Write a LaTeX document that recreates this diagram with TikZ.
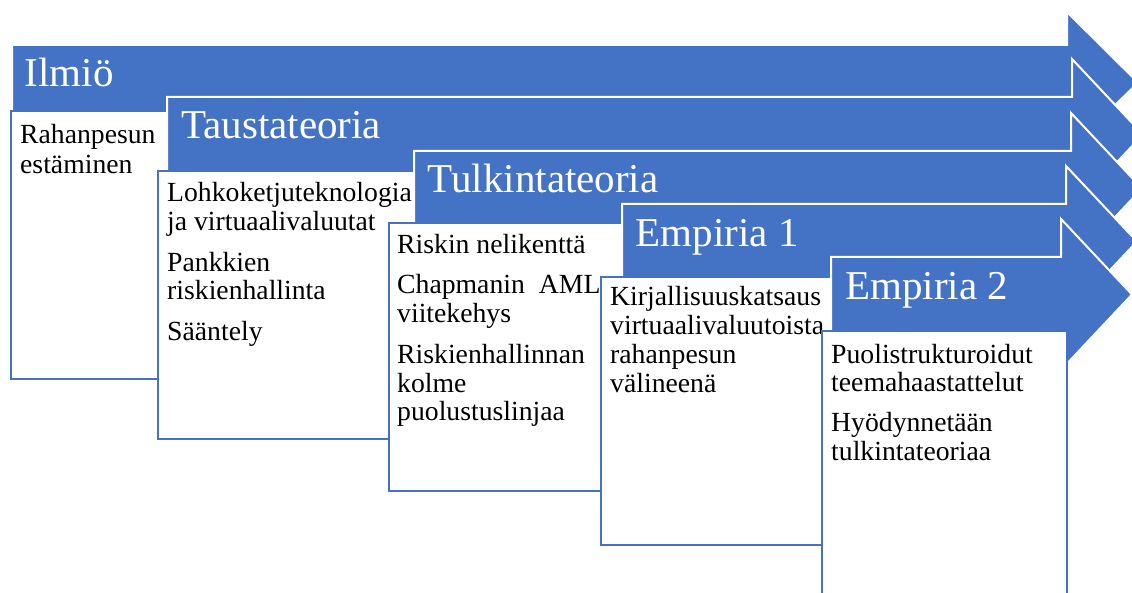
\documentclass[tikz,border=0pt]{standalone}
\usepackage{fontspec}
\setmainfont{Liberation Serif}
\definecolor{sablue}{HTML}{4472C4}
\tikzset{
  arrowshape/.style={fill=sablue, draw=white, line width=2pt},
  txtbox/.style={draw=sablue, line width=2.4pt, fill=white, anchor=north west, inner sep=0pt, minimum height=268pt},
  headtext/.style={text=white, anchor=base west, inner sep=0pt, font=\fontsize{41}{45}\selectfont},
  bodytext/.style={text=black, anchor=base west, inner sep=0pt, text width=320pt, align=flush left, font=\fontsize{27.7}{28.7}\selectfont}
}
\begin{document}
\begin{tikzpicture}[x=1pt,y=-1pt]
\useasboundingbox (0,0) rectangle (1132,593);
\clip (0,0) rectangle (1132,593);
% Arrow 1
\draw[arrowshape] (12,45) -- (1067,45) -- (1067,12) -- (1138,82.5) -- (1067,153) -- (1067,120) -- (12,120) -- cycle;
\node[headtext] (h1) at (24.5,87) {Ilmiö};
\node[txtbox, minimum width=260pt] (b1) at (10,110) {};
\node[bodytext] (t1) at ([xshift=10pt,yshift=-34pt]b1.north west) {Rahanpesun\\[1.3pt]estäminen};
% Arrow 2
\draw[arrowshape] (167,97) -- (1072,97) -- (1072,59) -- (1143,134.5) -- (1072,210) -- (1072,172) -- (167,172) -- cycle;
\node[headtext] (h2) at (181,139) {Taustateoria};
\node[txtbox, minimum width=260pt] (b2) at (157,170) {};
\node[bodytext] (t2) at ([xshift=10pt,yshift=-31.7pt]b2.north west) {Lohkoketjuteknologia\\ja virtuaalivaluutat\\[12pt]Pankkien\\riskienhallinta\\[12pt]Sääntely};
% Arrow 3
\draw[arrowshape] (414,151) -- (1071,151) -- (1071,113) -- (1142,188.5) -- (1071,264) -- (1071,226) -- (414,226) -- cycle;
\node[headtext] (h3) at (427.5,193) {Tulkintateoria};
\node[txtbox, minimum width=260pt] (b3) at (388,222) {};
\node[bodytext] (t3) at ([xshift=9pt,yshift=-31.3pt]b3.north west) {Riskin nelikenttä\\[12pt]Chapmanin\hspace{14pt}AML\\viitekehys\\[12pt]Riskienhallinnan\\kolme\\puolustuslinjaa};
% Arrow 4
\draw[arrowshape] (622,204) -- (1066,204) -- (1066,166) -- (1137,241.5) -- (1066,317) -- (1066,279) -- (622,279) -- cycle;
\node[headtext] (h4) at (635.5,247) {Empiria 1};
\node[txtbox, minimum width=260pt] (b4) at (600,276) {};
\node[bodytext] (t4) at ([xshift=10pt,yshift=-30pt]b4.north west) {Kirjallisuuskatsaus\\virtuaalivaluutoista\\rahanpesun\\välineenä};
% Arrow 5
\draw[arrowshape] (831,257) -- (1061,257) -- (1061,219) -- (1132,294.5) -- (1061,370) -- (1061,332) -- (831,332) -- cycle;
\node[headtext] (h5) at (845,300) {Empiria 2};
\node[txtbox, minimum width=245pt] (b5) at (821,330) {};
\node[bodytext] (t5) at ([xshift=10pt,yshift=-33pt]b5.north west) {Puolistrukturoidut\\teemahaastattelut\\[11pt]Hyödynnetään\\tulkintateoriaa};
\end{tikzpicture}
\end{document}
